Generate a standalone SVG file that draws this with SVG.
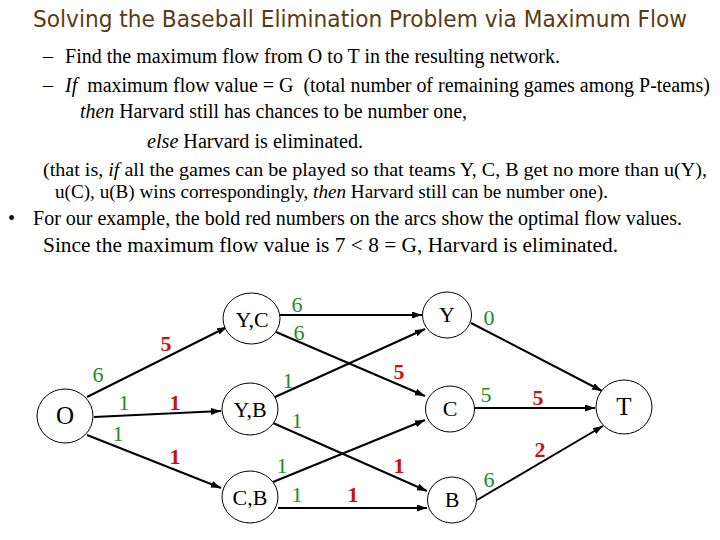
<svg xmlns="http://www.w3.org/2000/svg" width="720" height="540" viewBox="0 0 720 540">
<defs>
<marker id="arr" markerUnits="userSpaceOnUse" markerWidth="11" markerHeight="8" refX="10" refY="3.5" orient="auto">
<path d="M0,0 L10,3.5 L0,7 z" fill="#000"/>
</marker>
<style>
.title{font-family:"Comic Sans MS","DejaVu Sans",sans-serif;font-size:23px;fill:#5c3a14}
.body{font-family:"Liberation Serif","Times New Roman",serif;font-size:20px;fill:#000;white-space:pre}
.sm{font-size:18.5px}
.it{font-style:italic}
.node{fill:#fff;stroke:#000;stroke-width:1}
.nl{font-family:"Liberation Serif","Times New Roman",serif;font-size:22px;fill:#000;text-anchor:middle}
.big{font-size:25px}
.edge{stroke:#000;stroke-width:2;fill:none;marker-end:url(#arr)}
.g{font-family:"Liberation Serif","Times New Roman",serif;font-size:22px;fill:#228b22;text-anchor:middle}
.r{font-family:"Liberation Serif","Times New Roman",serif;font-size:22px;font-weight:bold;fill:#cc1111;text-anchor:middle}
</style>
</defs>
<rect width="720" height="540" fill="#fff"/>
<text class="title" x="33" y="27" textLength="654" lengthAdjust="spacingAndGlyphs">Solving the Baseball Elimination Problem via Maximum Flow</text>
<g id="text">
<text class="body" x="43" y="63">–</text>
<text class="body" x="65" y="63" textLength="495" lengthAdjust="spacingAndGlyphs">Find the maximum flow from O to T in the resulting network.</text>
<text class="body" x="43" y="92">–</text>
<text class="body" x="65" y="92" textLength="645" lengthAdjust="spacingAndGlyphs"><tspan class="it">If</tspan>  maximum flow value = G  (total number of remaining games among P-teams)</text>
<text class="body" x="80" y="118" textLength="387" lengthAdjust="spacingAndGlyphs"><tspan class="it">then</tspan> Harvard still has chances to be number one,</text>
<text class="body" x="147" y="148" textLength="216" lengthAdjust="spacingAndGlyphs"><tspan class="it">else</tspan> Harvard is eliminated.</text>
<text class="body sm" x="43" y="176" textLength="664" lengthAdjust="spacingAndGlyphs">(that is, <tspan class="it">if</tspan> all the games can be played so that teams Y, C, B get no more than u(Y),</text>
<text class="body sm" x="55" y="198" textLength="553" lengthAdjust="spacingAndGlyphs">u(C), u(B) wins correspondingly, <tspan class="it">then</tspan> Harvard still can be number one).</text>
<text class="body" x="8" y="225">•</text>
<text class="body" x="33" y="225" textLength="649" lengthAdjust="spacingAndGlyphs">For our example, the bold red numbers on the arcs show the optimal flow values.</text>
<text class="body" x="43" y="252" textLength="575" lengthAdjust="spacingAndGlyphs">Since the maximum flow value is 7 &lt; 8 = G, Harvard is eliminated.</text>
</g>
<g id="connectors">
<line class="edge" x1="87" y1="397" x2="227" y2="327"/>
<line class="edge" x1="94" y1="417" x2="221" y2="411"/>
<line class="edge" x1="87" y1="435" x2="221" y2="488"/>
<line class="edge" x1="280" y1="315" x2="422" y2="315"/>
<line class="edge" x1="276" y1="332" x2="425" y2="396"/>
<line class="edge" x1="275" y1="397" x2="425" y2="329"/>
<line class="edge" x1="273" y1="423" x2="427" y2="491"/>
<line class="edge" x1="273" y1="482" x2="425" y2="420"/>
<line class="edge" x1="278" y1="508" x2="427" y2="508"/>
<line class="edge" x1="471" y1="323" x2="602" y2="391"/>
<line class="edge" x1="474" y1="408" x2="595" y2="408"/>
<line class="edge" x1="477" y1="500" x2="603" y2="426"/>
</g>
<g id="node-O"><ellipse class="node" cx="65" cy="416" rx="28" ry="27"/><text class="nl big" x="65" y="424">O</text></g>
<g id="node-YC"><ellipse class="node" cx="251.5" cy="318.5" rx="28.5" ry="25.5"/><text class="nl" x="252" y="327">Y,C</text></g>
<g id="node-YB"><ellipse class="node" cx="250" cy="409" rx="28" ry="26"/><text class="nl" x="250" y="417">Y,B</text></g>
<g id="node-CB"><ellipse class="node" cx="250" cy="497" rx="28" ry="26"/><text class="nl" x="250" y="505">C,B</text></g>
<g id="node-Y"><ellipse class="node" cx="447" cy="315" rx="24.5" ry="23"/><text class="nl" x="447" y="322">Y</text></g>
<g id="node-C"><ellipse class="node" cx="450" cy="409" rx="24.5" ry="23"/><text class="nl" x="450" y="416">C</text></g>
<g id="node-B"><ellipse class="node" cx="452" cy="500" rx="24.5" ry="23"/><text class="nl" x="452" y="507">B</text></g>
<g id="node-T"><ellipse class="node" cx="624" cy="407" rx="28" ry="27"/><text class="nl big" x="624" y="415">T</text></g>
<g id="labels">
<text class="g" x="98" y="382">6</text>
<text class="r" x="166" y="351">5</text>
<text class="g" x="124" y="410">1</text>
<text class="r" x="175" y="410">1</text>
<text class="g" x="118" y="441">1</text>
<text class="r" x="175" y="464">1</text>
<text class="g" x="297" y="312">6</text>
<text class="g" x="299" y="340">6</text>
<text class="g" x="288" y="388">1</text>
<text class="g" x="297" y="428">1</text>
<text class="g" x="282" y="473">1</text>
<text class="g" x="297" y="502">1</text>
<text class="r" x="353" y="502">1</text>
<text class="r" x="399" y="379">5</text>
<text class="g" x="489" y="325">0</text>
<text class="g" x="486" y="402">5</text>
<text class="r" x="538" y="405">5</text>
<text class="r" x="540" y="457">2</text>
<text class="r" x="399" y="473">1</text>
<text class="g" x="489" y="487">6</text>
</g>
</svg>
